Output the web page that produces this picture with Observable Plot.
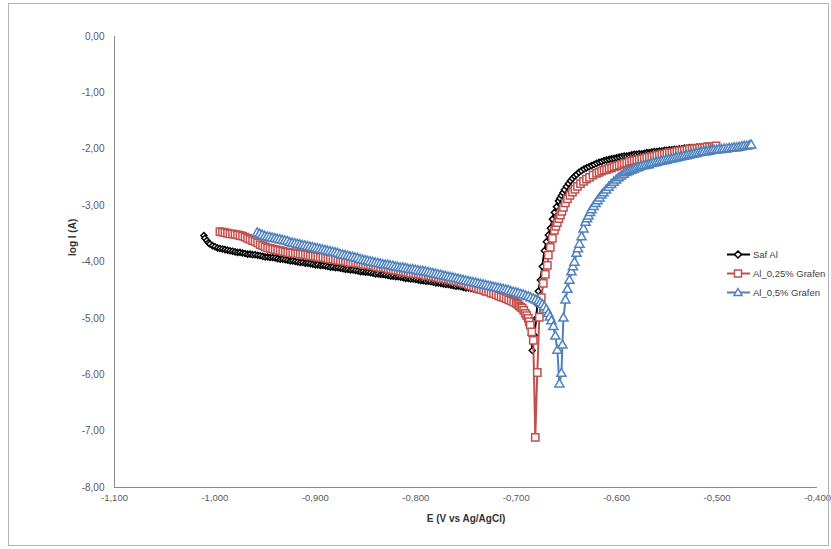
<!DOCTYPE html>
<html><head><meta charset="utf-8">
<script src="https://cdn.jsdelivr.net/npm/d3@7"></script>
<script src="https://cdn.jsdelivr.net/npm/@observablehq/plot@0.6"></script>
<style>
body{margin:0;background:#fff;}
#wrap{position:relative;width:831px;height:549px;font-family:"Liberation Sans",Arial,sans-serif;overflow:hidden;}
#border{position:absolute;left:8px;top:3px;width:821px;height:543px;border:1px solid #b4b4b4;box-sizing:border-box;pointer-events:none;}
#legend{position:absolute;left:727px;top:245px;font-size:9.5px;color:#404040;}
.row{display:flex;align-items:center;height:19px;white-space:nowrap;}
.row svg{margin-right:3px;}
</style></head><body><div id="wrap"><div id="chart"></div><div id="border"></div><div id="legend"></div></div>
<script>
const seriesNames = ["Saf Al", "Al_0,25% Grafen", "Al_0,5% Grafen"];
const seriesColors = ["#000000", "#C0504D", "#4F81BD"];
const xTicks = [-1.1, -1.0, -0.9, -0.8, -0.7, -0.6, -0.5, -0.4];
const yTicks = [0, -1, -2, -3, -4, -5, -6, -7, -8];
const xTitle = "E (V vs Ag/AgCl)";
const yTitle = "log I (A)";

// [E (V), log I (A)]
const safAl = [[-1.011,-3.53],[-1.010,-3.58],[-1.008,-3.62],[-1.0065,-3.66],[-1.005,-3.68],[-1.0025,-3.71],[-1.000,-3.73],[-0.9975,-3.75],[-0.995,-3.76],[-0.9925,-3.77],[-0.990,-3.78],[-0.9875,-3.79],[-0.985,-3.80],[-0.9825,-3.81],[-0.980,-3.82],[-0.9775,-3.83],[-0.975,-3.83],[-0.9725,-3.84],[-0.970,-3.85],[-0.9675,-3.86],[-0.965,-3.86],[-0.9625,-3.87],[-0.960,-3.87],[-0.9575,-3.88],[-0.955,-3.89],[-0.9525,-3.90],[-0.950,-3.91],[-0.9475,-3.91],[-0.945,-3.92],[-0.9425,-3.92],[-0.940,-3.93],[-0.9375,-3.94],[-0.935,-3.95],[-0.9325,-3.95],[-0.930,-3.96],[-0.9275,-3.97],[-0.925,-3.98],[-0.9225,-3.98],[-0.920,-3.99],[-0.9175,-4.00],[-0.915,-4.01],[-0.9125,-4.01],[-0.910,-4.02],[-0.9075,-4.02],[-0.905,-4.03],[-0.9025,-4.04],[-0.900,-4.05],[-0.8975,-4.05],[-0.895,-4.06],[-0.8925,-4.06],[-0.890,-4.07],[-0.8875,-4.08],[-0.885,-4.09],[-0.8825,-4.09],[-0.880,-4.10],[-0.8775,-4.10],[-0.875,-4.11],[-0.8725,-4.12],[-0.870,-4.13],[-0.8675,-4.13],[-0.865,-4.14],[-0.8625,-4.14],[-0.860,-4.15],[-0.8575,-4.16],[-0.855,-4.17],[-0.8525,-4.17],[-0.850,-4.18],[-0.8475,-4.18],[-0.845,-4.19],[-0.8425,-4.20],[-0.840,-4.21],[-0.8375,-4.21],[-0.835,-4.22],[-0.8325,-4.22],[-0.830,-4.23],[-0.8275,-4.24],[-0.825,-4.25],[-0.8225,-4.25],[-0.820,-4.26],[-0.8175,-4.26],[-0.815,-4.27],[-0.8125,-4.28],[-0.810,-4.29],[-0.8075,-4.29],[-0.805,-4.30],[-0.8025,-4.30],[-0.800,-4.31],[-0.7975,-4.32],[-0.795,-4.33],[-0.7925,-4.33],[-0.790,-4.34],[-0.7875,-4.34],[-0.785,-4.35],[-0.7825,-4.36],[-0.780,-4.37],[-0.7775,-4.37],[-0.775,-4.38],[-0.7725,-4.39],[-0.770,-4.40],[-0.7675,-4.40],[-0.765,-4.41],[-0.7625,-4.42],[-0.760,-4.43],[-0.7575,-4.43],[-0.755,-4.44],[-0.7525,-4.45],[-0.750,-4.46],[-0.7475,-4.46],[-0.745,-4.47],[-0.7425,-4.48],[-0.740,-4.49],[-0.7375,-4.50],[-0.735,-4.51],[-0.7325,-4.52],[-0.730,-4.53],[-0.7275,-4.54],[-0.725,-4.55],[-0.7225,-4.56],[-0.720,-4.57],[-0.7175,-4.58],[-0.715,-4.60],[-0.7125,-4.61],[-0.710,-4.63],[-0.7075,-4.64],[-0.705,-4.66],[-0.7025,-4.68],[-0.700,-4.70],[-0.698,-4.72],[-0.696,-4.75],[-0.6945,-4.77],[-0.693,-4.80],[-0.6915,-4.84],[-0.690,-4.88],[-0.689,-4.93],[-0.688,-4.98],[-0.687,-5.05],[-0.686,-5.12],[-0.685,-5.30],[-0.684,-5.57],
  [-0.682,-5.30],[-0.680,-5.00],[-0.679,-4.75],[-0.678,-4.52],[-0.676,-4.32],[-0.674,-4.08],[-0.672,-3.80],[-0.670,-3.64],[-0.668,-3.52],[-0.666,-3.40],[-0.664,-3.24],[-0.662,-3.12],[-0.660,-3.02],[-0.658,-2.92],[-0.6565,-2.87],[-0.655,-2.82],[-0.6535,-2.77],[-0.652,-2.72],[-0.650,-2.66],[-0.648,-2.61],[-0.646,-2.56],[-0.644,-2.52],[-0.642,-2.48],[-0.640,-2.45],[-0.6375,-2.41],[-0.635,-2.38],[-0.6325,-2.35],[-0.630,-2.33],[-0.6275,-2.31],[-0.625,-2.29],[-0.6225,-2.27],[-0.620,-2.25],[-0.6175,-2.23],[-0.615,-2.22],[-0.6125,-2.20],[-0.610,-2.19],[-0.6075,-2.18],[-0.605,-2.17],[-0.6025,-2.16],[-0.600,-2.15],[-0.5975,-2.14],[-0.595,-2.13],[-0.5925,-2.12],[-0.590,-2.12],[-0.5875,-2.11],[-0.585,-2.10],[-0.5825,-2.09],[-0.580,-2.09],[-0.5775,-2.08],[-0.575,-2.08],[-0.5725,-2.07],[-0.570,-2.06],[-0.5675,-2.06],[-0.565,-2.05],[-0.5625,-2.04],[-0.560,-2.04],[-0.5575,-2.03],[-0.555,-2.03],[-0.5525,-2.02],[-0.550,-2.02],[-0.5475,-2.01],[-0.545,-2.01],[-0.5425,-2.00],[-0.540,-2.00],[-0.5375,-1.99],[-0.535,-1.99],[-0.5325,-1.98],[-0.530,-1.98],[-0.5275,-1.97],[-0.525,-1.97],[-0.5225,-1.97],[-0.520,-1.96],[-0.5175,-1.96],[-0.515,-1.96],[-0.5125,-1.95],[-0.510,-1.95]];

const al025 = [[-0.995,-3.46],[-0.9925,-3.47],[-0.990,-3.48],[-0.9875,-3.49],[-0.985,-3.50],[-0.9825,-3.50],[-0.980,-3.51],[-0.9775,-3.52],[-0.975,-3.53],[-0.9725,-3.54],[-0.970,-3.56],[-0.9675,-3.58],[-0.965,-3.60],[-0.9625,-3.62],[-0.960,-3.64],[-0.9575,-3.66],[-0.955,-3.69],[-0.9525,-3.71],[-0.950,-3.73],[-0.9475,-3.75],[-0.945,-3.76],[-0.9425,-3.77],[-0.940,-3.78],[-0.9375,-3.79],[-0.935,-3.80],[-0.9325,-3.81],[-0.930,-3.82],[-0.9275,-3.83],[-0.925,-3.84],[-0.9225,-3.84],[-0.920,-3.85],[-0.9175,-3.85],[-0.915,-3.86],[-0.9125,-3.86],[-0.910,-3.87],[-0.9075,-3.88],[-0.905,-3.89],[-0.9025,-3.89],[-0.900,-3.90],[-0.8975,-3.91],[-0.895,-3.92],[-0.8925,-3.92],[-0.890,-3.93],[-0.8875,-3.94],[-0.885,-3.95],[-0.8825,-3.95],[-0.880,-3.96],[-0.8775,-3.97],[-0.875,-3.98],[-0.8725,-3.98],[-0.870,-3.99],[-0.8675,-4.00],[-0.865,-4.01],[-0.8625,-4.01],[-0.860,-4.02],[-0.8575,-4.02],[-0.855,-4.03],[-0.8525,-4.04],[-0.850,-4.05],[-0.8475,-4.05],[-0.845,-4.06],[-0.8425,-4.06],[-0.840,-4.08],[-0.8375,-4.09],[-0.835,-4.10],[-0.8325,-4.10],[-0.830,-4.11],[-0.8275,-4.12],[-0.825,-4.13],[-0.8225,-4.14],[-0.820,-4.15],[-0.8175,-4.15],[-0.815,-4.16],[-0.8125,-4.17],[-0.810,-4.18],[-0.8075,-4.19],[-0.805,-4.20],[-0.8025,-4.20],[-0.800,-4.21],[-0.7975,-4.21],[-0.795,-4.22],[-0.7925,-4.23],[-0.790,-4.24],[-0.7875,-4.24],[-0.785,-4.25],[-0.7825,-4.26],[-0.780,-4.27],[-0.7775,-4.28],[-0.775,-4.29],[-0.7725,-4.29],[-0.770,-4.30],[-0.7675,-4.31],[-0.765,-4.32],[-0.7625,-4.33],[-0.760,-4.34],[-0.7575,-4.35],[-0.755,-4.36],[-0.7525,-4.38],[-0.750,-4.39],[-0.7475,-4.41],[-0.745,-4.43],[-0.7425,-4.44],[-0.740,-4.46],[-0.7375,-4.47],[-0.735,-4.49],[-0.7325,-4.50],[-0.730,-4.52],[-0.7275,-4.53],[-0.725,-4.55],[-0.7225,-4.56],[-0.720,-4.58],[-0.7175,-4.60],[-0.715,-4.62],[-0.7125,-4.63],[-0.710,-4.65],[-0.7075,-4.67],[-0.705,-4.69],[-0.7025,-4.71],[-0.700,-4.73],[-0.6985,-4.75],[-0.697,-4.78],[-0.6955,-4.80],[-0.694,-4.82],[-0.6925,-4.86],[-0.691,-4.91],[-0.6895,-4.95],[-0.688,-5.00],[-0.687,-5.06],[-0.686,-5.12],[-0.6845,-5.24],[-0.683,-5.39],[-0.681,-7.11],
  [-0.679,-5.96],[-0.677,-4.98],[-0.675,-4.63],[-0.673,-4.38],[-0.671,-4.22],[-0.669,-4.06],[-0.668,-3.88],[-0.666,-3.74],[-0.664,-3.58],[-0.662,-3.44],[-0.6605,-3.37],[-0.659,-3.30],[-0.6575,-3.23],[-0.656,-3.17],[-0.6545,-3.10],[-0.653,-3.03],[-0.651,-2.95],[-0.649,-2.88],[-0.6465,-2.82],[-0.644,-2.76],[-0.6415,-2.71],[-0.639,-2.66],[-0.636,-2.61],[-0.633,-2.57],[-0.630,-2.53],[-0.627,-2.50],[-0.6235,-2.46],[-0.620,-2.43],[-0.6175,-2.41],[-0.615,-2.39],[-0.6125,-2.37],[-0.610,-2.36],[-0.6075,-2.34],[-0.605,-2.33],[-0.6025,-2.31],[-0.600,-2.30],[-0.5975,-2.28],[-0.595,-2.27],[-0.5925,-2.25],[-0.590,-2.24],[-0.5875,-2.22],[-0.585,-2.21],[-0.5825,-2.20],[-0.580,-2.19],[-0.5775,-2.18],[-0.575,-2.17],[-0.5725,-2.16],[-0.570,-2.15],[-0.5675,-2.14],[-0.565,-2.13],[-0.5625,-2.12],[-0.560,-2.11],[-0.5575,-2.10],[-0.555,-2.09],[-0.5525,-2.08],[-0.550,-2.07],[-0.5475,-2.06],[-0.545,-2.06],[-0.5425,-2.05],[-0.540,-2.04],[-0.5375,-2.03],[-0.535,-2.03],[-0.5325,-2.02],[-0.530,-2.01],[-0.5275,-2.00],[-0.525,-2.00],[-0.5225,-1.99],[-0.520,-1.99],[-0.5175,-1.98],[-0.515,-1.98],[-0.5125,-1.97],[-0.510,-1.96],[-0.5075,-1.96],[-0.505,-1.95],[-0.503,-1.95],[-0.501,-1.94]];

const al05 = [[-0.958,-3.49],[-0.9555,-3.51],[-0.953,-3.53],[-0.9505,-3.55],[-0.948,-3.56],[-0.9455,-3.57],[-0.943,-3.58],[-0.9405,-3.59],[-0.938,-3.60],[-0.9355,-3.61],[-0.933,-3.62],[-0.9305,-3.63],[-0.928,-3.64],[-0.9255,-3.66],[-0.923,-3.67],[-0.9205,-3.68],[-0.918,-3.69],[-0.9155,-3.70],[-0.913,-3.71],[-0.9105,-3.72],[-0.908,-3.73],[-0.9055,-3.74],[-0.903,-3.75],[-0.9005,-3.76],[-0.898,-3.77],[-0.8955,-3.78],[-0.893,-3.79],[-0.8905,-3.80],[-0.888,-3.81],[-0.8855,-3.82],[-0.883,-3.83],[-0.8805,-3.84],[-0.878,-3.85],[-0.8755,-3.87],[-0.873,-3.88],[-0.8705,-3.89],[-0.868,-3.90],[-0.8655,-3.91],[-0.863,-3.92],[-0.8605,-3.93],[-0.858,-3.94],[-0.8555,-3.96],[-0.853,-3.97],[-0.8505,-3.98],[-0.848,-3.99],[-0.8455,-4.00],[-0.843,-4.01],[-0.8405,-4.02],[-0.838,-4.03],[-0.8355,-4.04],[-0.833,-4.05],[-0.8305,-4.06],[-0.828,-4.06],[-0.8255,-4.07],[-0.823,-4.08],[-0.8205,-4.09],[-0.818,-4.10],[-0.8155,-4.11],[-0.813,-4.11],[-0.8105,-4.12],[-0.808,-4.13],[-0.8055,-4.14],[-0.803,-4.14],[-0.8005,-4.15],[-0.798,-4.16],[-0.7955,-4.17],[-0.793,-4.17],[-0.7905,-4.18],[-0.788,-4.19],[-0.7855,-4.20],[-0.783,-4.21],[-0.7805,-4.22],[-0.778,-4.23],[-0.7755,-4.24],[-0.773,-4.25],[-0.7705,-4.26],[-0.768,-4.27],[-0.7655,-4.28],[-0.763,-4.29],[-0.7605,-4.30],[-0.758,-4.31],[-0.7555,-4.32],[-0.753,-4.33],[-0.7505,-4.34],[-0.748,-4.35],[-0.7455,-4.36],[-0.743,-4.37],[-0.7405,-4.38],[-0.738,-4.39],[-0.7355,-4.40],[-0.733,-4.41],[-0.7305,-4.42],[-0.728,-4.43],[-0.7255,-4.44],[-0.723,-4.45],[-0.7205,-4.46],[-0.718,-4.47],[-0.7155,-4.48],[-0.713,-4.49],[-0.7105,-4.50],[-0.708,-4.51],[-0.7055,-4.53],[-0.703,-4.54],[-0.7005,-4.55],[-0.698,-4.56],[-0.6955,-4.58],[-0.693,-4.59],[-0.6905,-4.61],[-0.688,-4.62],[-0.6855,-4.64],[-0.683,-4.66],[-0.6805,-4.68],[-0.678,-4.70],[-0.676,-4.73],[-0.674,-4.76],[-0.672,-4.80],[-0.670,-4.85],[-0.668,-4.92],[-0.6665,-4.98],[-0.665,-5.05],[-0.663,-5.15],[-0.661,-5.32],[-0.659,-5.57],[-0.657,-6.17],
  [-0.655,-5.98],[-0.654,-5.48],[-0.653,-5.00],[-0.651,-4.68],[-0.649,-4.49],[-0.647,-4.33],[-0.645,-4.18],[-0.6435,-4.09],[-0.642,-4.01],[-0.640,-3.85],[-0.6385,-3.77],[-0.637,-3.69],[-0.635,-3.56],[-0.633,-3.42],[-0.631,-3.30],[-0.6295,-3.24],[-0.628,-3.19],[-0.6265,-3.13],[-0.625,-3.08],[-0.623,-3.02],[-0.621,-2.97],[-0.619,-2.92],[-0.617,-2.87],[-0.615,-2.82],[-0.613,-2.78],[-0.6105,-2.73],[-0.608,-2.68],[-0.6055,-2.63],[-0.603,-2.59],[-0.6005,-2.55],[-0.598,-2.51],[-0.5955,-2.48],[-0.593,-2.45],[-0.5905,-2.42],[-0.588,-2.40],[-0.5855,-2.38],[-0.583,-2.36],[-0.5805,-2.34],[-0.578,-2.33],[-0.5755,-2.31],[-0.573,-2.30],[-0.5705,-2.29],[-0.568,-2.28],[-0.5655,-2.26],[-0.563,-2.25],[-0.5605,-2.24],[-0.558,-2.23],[-0.5555,-2.22],[-0.553,-2.21],[-0.5505,-2.20],[-0.548,-2.19],[-0.5455,-2.18],[-0.543,-2.17],[-0.5405,-2.16],[-0.538,-2.15],[-0.5355,-2.14],[-0.533,-2.13],[-0.5305,-2.12],[-0.528,-2.11],[-0.5255,-2.10],[-0.523,-2.09],[-0.5205,-2.08],[-0.518,-2.07],[-0.5155,-2.06],[-0.513,-2.05],[-0.5105,-2.05],[-0.508,-2.04],[-0.5055,-2.03],[-0.503,-2.02],[-0.5005,-2.02],[-0.498,-2.01],[-0.4955,-2.01],[-0.493,-2.00],[-0.4905,-2.00],[-0.488,-1.99],[-0.4855,-1.99],[-0.483,-1.98],[-0.4805,-1.98],[-0.478,-1.97],[-0.4755,-1.96],[-0.473,-1.95],[-0.4705,-1.95],[-0.468,-1.94],[-0.466,-1.93]];

const seriesData = [safAl, al025, al05].map(s => s.map(([E, L]) => ({E, L})));
const symbols = ["diamond2", "square", "triangle"];
const radii = [2.7, 4.1, 3.4];

const marks = [
  Plot.ruleX([-1.1], {stroke: "#898989", strokeWidth: 1}),
  Plot.ruleY([-8], {stroke: "#898989", strokeWidth: 1}),
  Plot.axisX({ticks: xTicks, tickSize: 0, tickPadding: 7, tickFormat: d => d.toFixed(3).replace(".", ","), label: null, fill: "#595959", fontSize: 9.5}),
  Plot.axisY({ticks: yTicks, tickSize: 0, tickPadding: 10, tickFormat: d => d.toFixed(2).replace(".", ","), label: null, fill: "#595959", fontSize: 10}),
  Plot.text([xTitle], {text: d => d, frameAnchor: "bottom", dy: 34, fontWeight: "bold", fontSize: 10, fill: "#333"}),
  Plot.text([yTitle], {text: d => d, frameAnchor: "left", dx: -42, dy: -6, rotate: -90, fontWeight: "bold", fontSize: 10, fill: "#333"})
];
seriesData.forEach((data, i) => {
  marks.push(Plot.line(data, {x: "E", y: "L", stroke: seriesColors[i], strokeWidth: 2}));
  marks.push(Plot.dot(data, {x: "E", y: "L", symbol: symbols[i], r: radii[i], stroke: seriesColors[i], fill: "white", strokeWidth: 1.5}));
});

const chart = Plot.plot({
  width: 831, height: 549,
  marginLeft: 114, marginRight: 14, marginTop: 36, marginBottom: 62,
  x: {domain: [-1.1, -0.4]},
  y: {domain: [-8, 0]},
  style: {fontFamily: "'Liberation Sans', Arial, sans-serif", fontSize: "10px", background: "white", overflow: "visible"},
  marks
});
document.getElementById("chart").appendChild(chart);

// legend
const legend = document.getElementById("legend");
const symPaths = [
  c => `<path d="M11,6 L14.5,9.5 L11,13 L7.5,9.5 Z" fill="white" stroke="${c}" stroke-width="1.5"/>`,
  c => `<rect x="7.5" y="6" width="7" height="7" fill="white" stroke="${c}" stroke-width="1.5"/>`,
  c => `<path d="M11,5.5 L15,12.5 L7,12.5 Z" fill="white" stroke="${c}" stroke-width="1.5"/>`
];
seriesNames.forEach((name, i) => {
  const row = document.createElement("div");
  row.className = "row";
  row.innerHTML = `<svg width="23" height="19"><line x1="0" y1="9.5" x2="23" y2="9.5" stroke="${seriesColors[i]}" stroke-width="2"/>${symPaths[i](seriesColors[i])}</svg><span>${name}</span>`;
  legend.appendChild(row);
});
</script>
</body></html>
